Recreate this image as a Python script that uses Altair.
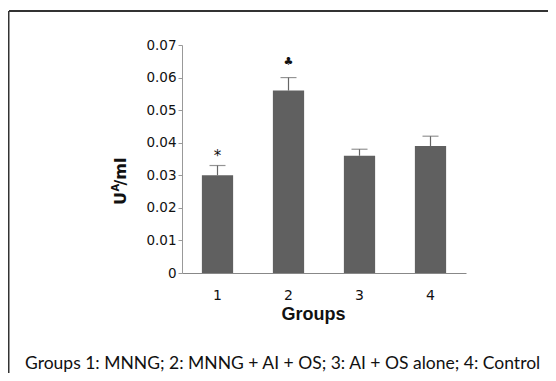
import altair as alt
import pandas as pd

groups = ["1", "2", "3", "4"]
means = [0.030, 0.056, 0.036, 0.039]
errors_top = [0.033, 0.060, 0.038, 0.042]
markers = ["*", "♣", "", ""]
y_ticks = [0, 0.01, 0.02, 0.03, 0.04, 0.05, 0.06, 0.07]
caption = "Groups 1: MNNG; 2: MNNG + AI + OS; 3: AI + OS alone; 4: Control"

df = pd.DataFrame({"group": groups, "mean": means, "err": errors_top, "mark": markers})

W, H = 284, 228
PAD_L, PAD_T = 174, 37

x_axis = alt.Axis(title="Groups", labelAngle=0, labelPadding=15, ticks=False, domainColor="#888",
                  labelFontSize=14, titlePadding=3, titleX=131, titleFontSize=18)
y_axis = alt.Axis(title=None, values=y_ticks, grid=False,
                  labelExpr="datum.value == 0 ? '0' : format(datum.value, '.2f')",
                  tickSize=4, tickColor="#999", domainColor="#999", labelPadding=2,
                  labelFontSize=13.5, labelOverlap=False)
y_scale = alt.Scale(domain=[0, 0.07], nice=False)
x = alt.X("group:N", sort=groups, scale=alt.Scale(paddingInner=0.56, paddingOuter=0.28), axis=x_axis)

base = alt.Chart(df)
bars = base.mark_bar(color="#606060").encode(x=x, y=alt.Y("mean:Q", scale=y_scale, axis=y_axis))
err = base.mark_rule(color="#666", strokeWidth=1.2).encode(
    x=x, y=alt.Y("mean:Q", scale=y_scale, axis=y_axis), y2="err:Q")
caps = base.mark_tick(color="#666", size=16, thickness=1.2).encode(
    x=x, y=alt.Y("err:Q", scale=y_scale, axis=y_axis))
star = base.transform_filter("datum.mark == '*'").mark_text(
    dy=-10, fontSize=15, font="DejaVu Sans", color="#111").encode(
    x=x, y=alt.Y("err:Q", scale=y_scale, axis=y_axis), text="mark:N")
club = base.transform_filter("datum.mark == '♣'").mark_text(
    dy=-16, fontSize=11, font="DejaVu Sans", color="#111").encode(
    x=x, y=alt.Y("err:Q", scale=y_scale, axis=y_axis), text="mark:N")

# y-axis title with superscript A, drawn as rotated text pieces
title_df = pd.DataFrame({"t": ["U", "A", "/ml"], "px": [-61, -66, -61], "py": [160, 146.5, 140.5],
                         "fs": [16, 10, 16]})
ytitle = alt.Chart(title_df).mark_text(angle=270, align="left", baseline="middle",
                                       font="DejaVu Sans", fontWeight="bold", color="#111").encode(
    x=alt.X("px:Q", scale=None), y=alt.Y("py:Q", scale=None), text="t:N",
    size=alt.Size("fs:Q", scale=None, legend=None))

frame_df = pd.DataFrame({"k": [0]})
top_line = alt.Chart(frame_df).mark_rule(color="#333", strokeWidth=2).encode(
    x=alt.value(-PAD_L + 1), x2=alt.value(556), y=alt.value(-PAD_T + 3))
left_line = alt.Chart(frame_df).mark_rule(color="#333", strokeWidth=2).encode(
    x=alt.value(-PAD_L + 0.5), y=alt.value(-PAD_T + 3), y2=alt.value(400))

cap_df = pd.DataFrame({"t": [caption]})
cap_text = alt.Chart(cap_df).mark_text(align="left", baseline="middle", font="Lato",
                                       fontSize=17.5, color="#111").encode(
    x=alt.value(-157), y=alt.value(319), text="t:N")

chart = alt.layer(bars, err, caps, star, club, ytitle, top_line, left_line, cap_text).properties(
    width=W, height=H,
    autosize=alt.AutoSizeParams(type="none"),
    padding={"left": PAD_L, "top": PAD_T, "right": 556 - 16 - PAD_L - W, "bottom": 365 - PAD_T - H},
    background="white",
).configure_view(stroke=None).configure_axis(
    labelFont="DejaVu Sans", labelFontSize=13, labelColor="#111",
    titleFont="Liberation Sans", titleFontSize=17, titleFontWeight="bold", titleColor="#111",
)

chart.save("out.html", embed_options={"renderer": "svg", "actions": False})
